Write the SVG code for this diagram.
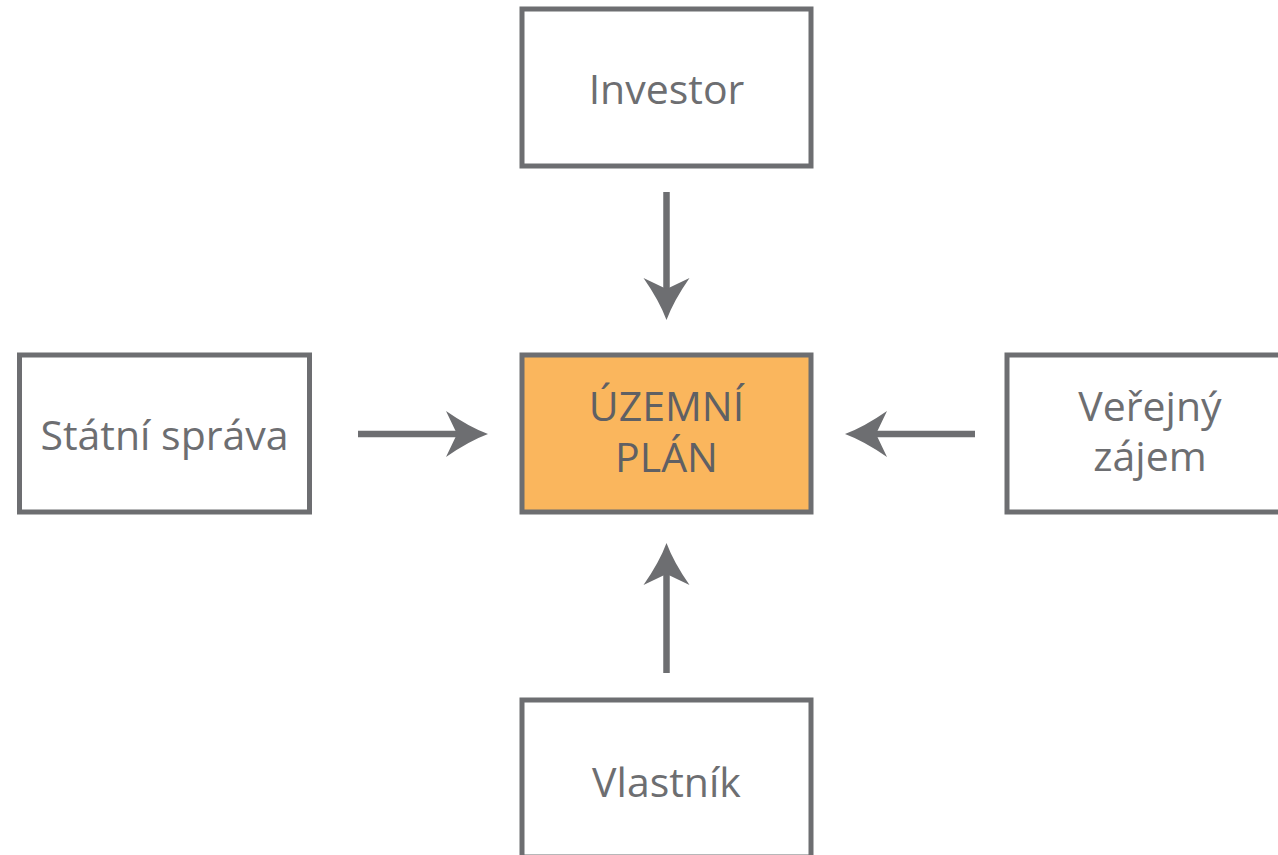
<svg xmlns="http://www.w3.org/2000/svg" width="1278" height="855" viewBox="0 0 1278 855">
  <style>
    .box { fill: #ffffff; stroke: #6d6e71; stroke-width: 5; }
    .main { fill: #fab65d; stroke: #6d6e71; stroke-width: 5; }
    .lbl { font-family: "Open Sans", "Liberation Sans", sans-serif; font-size: 41px; fill: #6d6e71; text-anchor: middle; }
    .conn { stroke: #6d6e71; stroke-width: 6.5; fill: none; marker-end: url(#head); }
  </style>
  <defs>
    <marker id="head" viewBox="-12 -24 44 48" markerWidth="44" markerHeight="48" refX="0" refY="0" orient="auto" markerUnits="userSpaceOnUse">
      <path d="M31,0 Q12,-7 -11,-23 L0,0 L-11,23 Q12,7 31,0 Z" fill="#6d6e71"/>
    </marker>
  </defs>
  <rect width="1278" height="855" fill="#ffffff"/>
  <g id="connectors">
    <line class="conn" x1="666.5" y1="192" x2="666.5" y2="289"/>
    <line class="conn" x1="666.5" y1="673" x2="666.5" y2="574"/>
    <line class="conn" x1="358" y1="434" x2="457" y2="434"/>
    <line class="conn" x1="975" y1="434" x2="876" y2="434"/>
  </g>
  <g id="investor">
    <rect class="box" x="522" y="9" width="289" height="157"/>
    <text class="lbl" x="666.5" y="104">Investor</text>
  </g>
  <g id="uzemni-plan">
    <rect class="main" x="522" y="355" width="289" height="157"/>
    <text class="lbl" x="666.5" y="421" style="fill:#5f6064">ÚZEMNÍ</text>
    <text class="lbl" x="666.5" y="472" style="fill:#5f6064">PLÁN</text>
  </g>
  <g id="statni-sprava">
    <rect class="box" x="19.5" y="355" width="290" height="157"/>
    <text class="lbl" x="164.5" y="450">Státní správa</text>
  </g>
  <g id="verejny-zajem">
    <rect class="box" x="1007" y="355" width="289" height="157"/>
    <text class="lbl" x="1150" y="421">Veřejný</text>
    <text class="lbl" x="1150" y="471">zájem</text>
  </g>
  <g id="vlastnik">
    <rect class="box" x="522" y="700" width="289" height="157"/>
    <text class="lbl" x="666.5" y="797">Vlastník</text>
  </g>
</svg>
